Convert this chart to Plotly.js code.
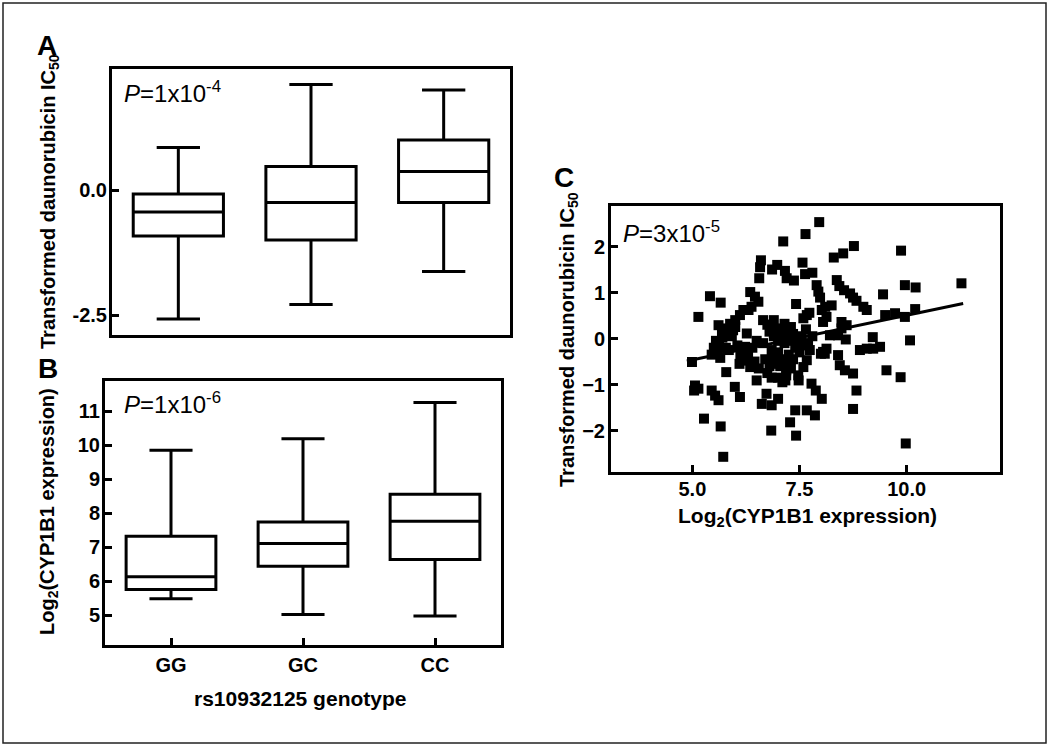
<!DOCTYPE html>
<html>
<head>
<meta charset="utf-8">
<script src="https://cdn.plot.ly/plotly-3.0.1.min.js"></script>
<style>
  html, body { margin: 0; padding: 0; background: #fff; }
  #chart { width: 1050px; height: 747px; }
</style>
</head>
<body>
<div id="chart"></div>
<script>
// ---------- data ----------
const genotypes = ['GG', 'GC', 'CC'];

// Panel A: transformed daunorubicin IC50 by genotype
const icLow    = [-2.58, -2.29, -1.63];
const icQ1     = [-0.92, -1.00, -0.25];
const icMedian = [-0.44, -0.25,  0.37];
const icQ3     = [-0.08,  0.47,  1.00];
const icHigh   = [ 0.85,  2.11,  2.00];

// Panel B: log2(CYP1B1 expression) by genotype
const exLow    = [5.48, 5.02, 4.97];
const exQ1     = [5.75, 6.44, 6.64];
const exMedian = [6.13, 7.11, 7.76];
const exQ3     = [7.32, 7.74, 8.56];
const exHigh   = [9.85, 10.19, 11.26];

// Panel C: expression vs transformed IC50
const scatterX = [
  7.96, 7.64, 7.12, 8.77, 9.87, 8.52, 8.30, 6.60, 6.58, 6.56,
  6.86, 6.98, 7.16, 7.20, 7.37, 7.57, 7.63, 7.80, 11.28, 9.96,
  10.21, 7.90, 7.94, 7.98, 8.37, 8.43, 8.54, 8.68, 8.75, 8.83,
  9.45, 5.41, 5.66, 5.14, 6.35, 6.46, 6.54, 6.38, 6.31, 6.19,
  6.11, 6.00, 5.88, 5.76, 5.61, 7.42, 7.67, 7.73, 7.59, 8.02,
  8.10, 8.25, 8.13, 8.05, 8.48, 8.60, 8.99, 9.07, 10.20, 9.50,
  9.73, 9.96, 10.08, 9.21, 8.91, 9.07, 9.22, 9.38, 9.53, 9.86,
  9.98, 8.48, 8.58, 8.40, 8.44, 8.56, 8.75, 8.83, 8.75, 8.21,
  8.40, 8.05, 8.13, 7.67, 7.74, 7.59, 7.47, 7.43, 7.78, 7.88,
  8.02, 7.67, 7.86, 7.28, 7.42, 7.40, 6.84, 6.62, 6.73, 6.85,
  7.00, 6.50, 6.35, 6.27, 6.23, 5.99, 6.11, 5.79, 5.72, 5.66,
  5.27, 5.45, 5.53, 5.61, 5.06, 5.14, 5.04, 4.99, 5.69, 6.27,
  7.48, 7.19, 7.19, 7.17, 8.00, 8.09, 6.90, 6.65,
  5.55, 5.62, 5.70, 5.78, 5.85, 5.58, 5.65, 5.92, 6.00, 6.05,
  6.12, 6.20, 6.10, 6.30, 6.40, 6.45, 6.55, 6.50, 5.95, 5.50,
  5.45,
  6.75, 6.80, 6.90, 6.95, 7.00, 7.05, 7.10, 7.15, 7.20, 7.25,
  7.30, 7.35, 7.40, 7.45, 7.50, 7.55, 7.60, 6.85, 6.90, 6.95,
  7.00, 7.05, 7.10, 7.20, 7.25, 7.30, 6.80, 6.75, 6.85, 6.70,
  7.35, 6.65, 7.00, 7.10, 7.65, 7.70, 7.80, 6.85, 7.15, 7.30
];
const scatterY = [
  2.53, 2.27, 2.11, 2.01, 1.91, 1.85, 1.76, 1.70, 1.55, 1.31,
  1.50, 1.60, 1.47, 1.31, 1.26, 1.65, 1.40, 1.43, 1.20, 1.16,
  1.11, 1.16, 1.02, 0.89, 1.27, 1.14, 1.05, 0.98, 0.89, 0.82,
  0.96, 0.92, 0.78, 0.47, 1.01, 0.91, 0.80, 0.69, 0.62, 0.62,
  0.51, 0.40, 0.32, 0.22, 0.29, 0.75, 0.51, 0.56, 0.44, 0.62,
  0.69, 0.72, 0.47, 0.36, 0.36, 0.29, 0.69, 0.62, 0.64, 0.51,
  0.55, 0.47, -0.04, 0.03, -0.25, -0.22, -0.22, -0.18, -0.69, -0.84,
  -2.28, 0.22, -0.02, -0.36, -0.58, -0.69, -0.76, -1.13, -1.53, 0.07,
  0.07, -0.29, -0.22, -0.47, -0.25, -0.62, -0.80, -0.11, -0.98, -1.13,
  -1.31, -1.56, -1.67, -1.82, -2.11, -1.56, -2.00, -1.42, -1.20, -1.45,
  -1.31, -0.91, -0.62, -0.44, -0.18, -1.05, -1.27, -0.73, -2.57, -1.91,
  -1.74, -1.13, -1.24, -1.34, -1.02, -1.09, -1.13, -0.51, 0.14, 0.11,
  -0.91, -0.69, -0.80, -0.91, -0.33, -0.33, 0.40, 0.40,
  -0.05, -0.12, 0.02, -0.20, -0.25, -0.30, -0.42, 0.05, 0.25, -0.15,
  -0.35, -0.48, -0.55, -0.30, -0.20, -0.50, -0.65, -0.05, 0.18, -0.20,
  -0.35,
  0.30, 0.15, 0.05, 0.20, -0.05, 0.10, 0.22, -0.10, 0.05, 0.15,
  -0.05, 0.10, -0.20, 0.02, -0.30, 0.05, -0.15, -0.25, -0.40, -0.55,
  -0.30, -0.60, -0.45, -0.55, -0.35, -0.65, -0.60, -0.75, -0.85, -0.45,
  -0.45, -0.10, -0.85, -0.95, 0.20, -0.10, 0.05, 0.30, 0.32, 0.25
];
// Regression line end points
const fitX = [4.87, 11.32];
const fitY = [-0.49, 0.76];

// ---------- layout helpers ----------
const W = 1050, H = 747;
const px = v => v / W;
const py = v => 1 - v / H;
const FONT = 'Liberation Sans, Arial, sans-serif';
const tickFont = {family: FONT, size: 20, color: '#000', weight: 'bold'};
const titleFont = {family: FONT, size: 20, color: '#000', weight: 'bold'};

function frameAxis(extra) {
  return Object.assign({
    showline: true, mirror: true, linecolor: '#000', linewidth: 3,
    showgrid: false, zeroline: false,
    ticks: 'inside', ticklen: 7, tickwidth: 3, tickcolor: '#000',
    tickfont: tickFont, fixedrange: true
  }, extra);
}

const boxStyle = {
  type: 'box',
  line: {color: '#000', width: 3},
  fillcolor: '#fff',
  whiskerwidth: 0.48,
  width: 0.68,
  boxpoints: false,
  hoverinfo: 'skip',
  showlegend: false
};

const traces = [
  Object.assign({}, boxStyle, {
    x: genotypes, q1: icQ1, median: icMedian, q3: icQ3,
    lowerfence: icLow, upperfence: icHigh,
    xaxis: 'x', yaxis: 'y'
  }),
  Object.assign({}, boxStyle, {
    x: genotypes, q1: exQ1, median: exMedian, q3: exQ3,
    lowerfence: exLow, upperfence: exHigh,
    xaxis: 'x2', yaxis: 'y2'
  }),
  {
    type: 'scatter', mode: 'markers',
    x: scatterX, y: scatterY,
    marker: {symbol: 'square', size: 10, color: '#000'},
    xaxis: 'x3', yaxis: 'y3', showlegend: false, hoverinfo: 'skip'
  },
  {
    type: 'scatter', mode: 'lines',
    x: fitX, y: fitY,
    line: {color: '#000', width: 3},
    xaxis: 'x3', yaxis: 'y3', showlegend: false, hoverinfo: 'skip'
  }
];

const layout = {
  width: W, height: H,
  margin: {l: 0, r: 0, t: 0, b: 0},
  paper_bgcolor: '#fff', plot_bgcolor: '#fff',
  showlegend: false,
  font: {family: FONT, color: '#000'},
  xaxis: frameAxis({
    domain: [px(112), px(510)], anchor: 'y',
    type: 'category', categoryarray: genotypes,
    range: [-0.5, 2.5], ticks: '', showticklabels: false
  }),
  yaxis: frameAxis({
    domain: [py(335), py(69)], anchor: 'x',
    range: [-2.9, 2.42], tickvals: [-2.5, 0], ticktext: ['-2.5', '0.0'],
    ticklabelstandoff: -2
  }),
  xaxis2: frameAxis({
    domain: [px(105), px(501)], anchor: 'y2',
    type: 'category', categoryarray: genotypes,
    range: [-0.5, 2.5]
  }),
  yaxis2: frameAxis({
    domain: [py(645), py(381)], anchor: 'x2',
    range: [4.12, 11.89], tickvals: [5, 6, 7, 8, 9, 10, 11],
    ticklabelstandoff: -2
  }),
  xaxis3: frameAxis({
    domain: [px(611), px(1000)], anchor: 'y3',
    range: [3.1, 12.18], tickvals: [5, 7.5, 10], ticktext: ['5.0', '7.5', '10.0'],
    ticklabelstandoff: -3
  }),
  yaxis3: frameAxis({
    domain: [py(472), py(206)], anchor: 'x3',
    range: [-2.9, 2.88], tickvals: [-2, -1, 0, 1, 2],
    ticklabelstandoff: -1
  }),
  shapes: [
    {type: 'rect', xref: 'paper', yref: 'paper',
     x0: px(3), x1: px(1046), y0: py(743), y1: py(3),
     line: {color: '#222', width: 1.5}}
  ],
  annotations: [
    // panel letters
    {text: '<b>A</b>', x: px(47), y: py(46), font: {family: FONT, size: 28}},
    {text: '<b>B</b>', x: px(48), y: py(368), font: {family: FONT, size: 28}},
    {text: '<b>C</b>', x: px(564), y: py(177), font: {family: FONT, size: 28}},
    // P values
    {text: '<i>P</i>=1x10<sup>-4</sup>', x: px(122), y: py(92), xanchor: 'left',
     font: {family: FONT, size: 24}},
    {text: '<i>P</i>=1x10<sup>-6</sup>', x: px(122), y: py(403), xanchor: 'left',
     font: {family: FONT, size: 24}},
    {text: '<i>P</i>=3x10<sup>-5</sup>', x: px(621), y: py(232), xanchor: 'left',
     font: {family: FONT, size: 24}},
    // axis titles
    {text: 'Transformed daunorubicin IC<sub>50</sub>', textangle: -90,
     x: px(49), y: py(202), font: titleFont},
    {text: 'Log<sub>2</sub>(CYP1B1 expression)', textangle: -90,
     x: px(48), y: py(512), font: titleFont},
    {text: 'Transformed daunorubicin IC<sub>50</sub>', textangle: -90,
     x: px(568), y: py(340), font: titleFont},
    {text: 'rs10932125 genotype', x: px(300), y: py(698),
     font: Object.assign({}, titleFont, {size: 21})},
    {text: 'Log<sub>2</sub>(CYP1B1 expression)', x: px(807), y: py(517),
     font: Object.assign({}, titleFont, {size: 21})}
  ].map(a => Object.assign({xref: 'paper', yref: 'paper', showarrow: false,
    xanchor: 'center', yanchor: 'middle'}, a))
};

Plotly.newPlot('chart', traces, layout, {staticPlot: true, displayModeBar: false});
</script>
</body>
</html>
